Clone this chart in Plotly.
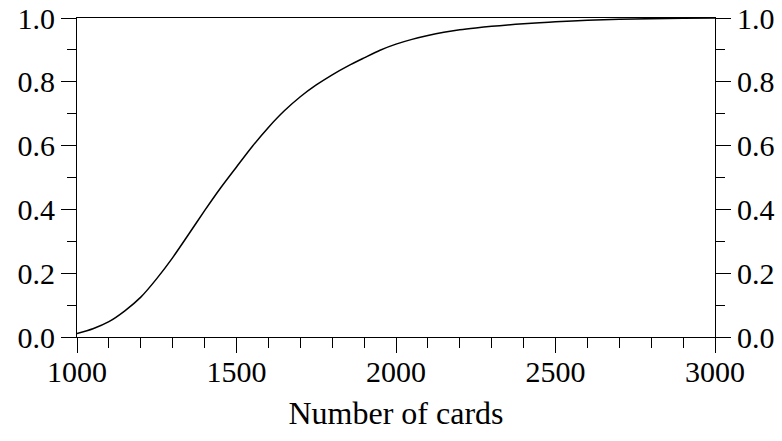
import plotly.graph_objects as go

cards = [1000, 1050, 1100, 1150, 1200, 1250, 1300, 1350, 1400, 1450, 1500, 1550, 1600,
         1650, 1700, 1750, 1800, 1850, 1900, 1950, 2000, 2050, 2100, 2150, 2200, 2250,
         2300, 2350, 2400, 2450, 2500, 2600, 2700, 2800, 2900, 3000]
prob = [0.011, 0.026, 0.048, 0.082, 0.125, 0.183, 0.249, 0.322, 0.396, 0.467, 0.533,
        0.598, 0.657, 0.709, 0.753, 0.790, 0.822, 0.850, 0.875, 0.899, 0.918, 0.933,
        0.945, 0.955, 0.963, 0.969, 0.974, 0.978, 0.982, 0.985, 0.988, 0.993, 0.996,
        0.998, 0.999, 1.0]

x_ticks = [1000, 1500, 2000, 2500, 3000]
y_ticks = [0.0, 0.2, 0.4, 0.6, 0.8, 1.0]
y_labels = ["0.0", "0.2", "0.4", "0.6", "0.8", "1.0"]
x_title = "Number of cards"

FONT = "Liberation Serif"
fig = go.Figure()
fig.add_trace(go.Scatter(x=cards, y=prob, mode="lines",
                         line=dict(color="black", width=1.5, shape="spline", smoothing=0.8),
                         showlegend=False))
fig.add_trace(go.Scatter(x=[cards[0]], y=[prob[0]], yaxis="y2", mode="markers",
                         marker=dict(opacity=0), showlegend=False, hoverinfo="skip"))

common_y = dict(range=[0, 1], tickvals=y_ticks, ticktext=y_labels, ticks="outside", ticklen=15,
                tickwidth=1, tickcolor="black", showline=True, linecolor="black", linewidth=1,
                showgrid=False, zeroline=False, automargin=False, ticklabeloverflow="allow",
                minor=dict(dtick=0.1, ticks="outside", ticklen=9, tickwidth=1, tickcolor="black"),
                tickfont=dict(family=FONT, size=30, color="black"))

fig.update_layout(
    width=782, height=441,
    margin=dict(l=77, r=67, t=18, b=104),
    plot_bgcolor="white", paper_bgcolor="white",
    xaxis=dict(range=[1000, 3000], tickvals=x_ticks, ticks="outside", ticklen=15, tickwidth=1,
               tickcolor="black", showline=True, linecolor="black", linewidth=1, mirror=True,
               showgrid=False, zeroline=False, automargin=False, ticklabelstandoff=-7,
               ticklabeloverflow="allow",
               minor=dict(dtick=100, ticks="outside", ticklen=10, tickwidth=1, tickcolor="black"),
               tickfont=dict(family=FONT, size=30, color="black"),
               title=dict(text=x_title, font=dict(family=FONT, size=32, color="black"), standoff=14)),
    yaxis=dict(side="left", **common_y),
    yaxis2=dict(side="right", overlaying="y", **common_y),
)
fig.write_html("out.html", config={"displayModeBar": False},
               post_script="document.body.style.margin='0';")
